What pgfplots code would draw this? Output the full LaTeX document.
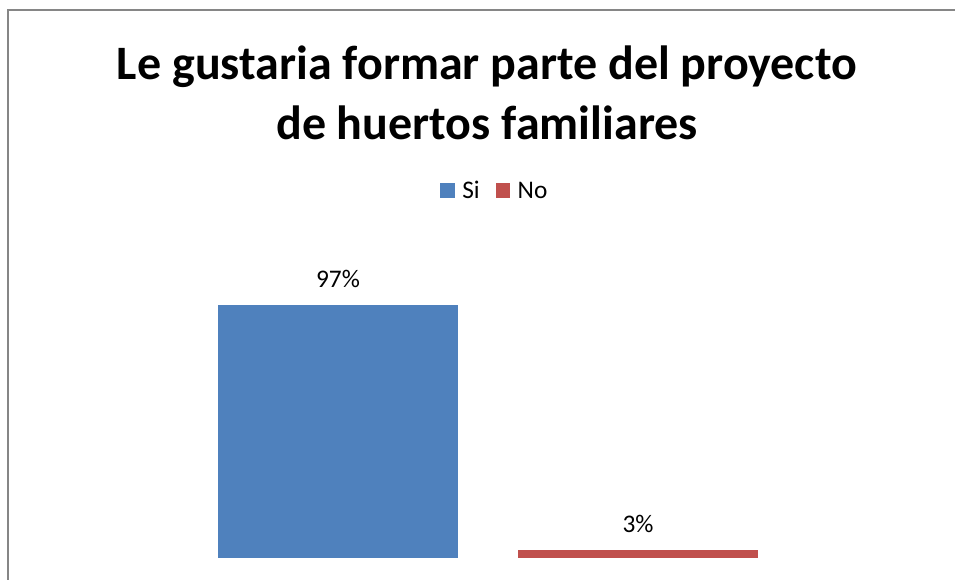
\documentclass[border=0pt]{standalone}
\usepackage{pgfplots}
\pgfplotsset{compat=1.18}
\usepackage{fontspec}
\setmainfont{Carlito}
\definecolor{cblue}{HTML}{4F81BD}
\definecolor{cred}{HTML}{C0504D}
\definecolor{frame}{HTML}{868686}
\begin{document}
\begin{tikzpicture}
\clip (0pt,0pt) rectangle (716.25pt,435pt);
\fill[white] (0pt,0pt) rectangle (716.25pt,435pt);
\draw[frame, line width=1.5pt] (6pt,-10pt) -- (6pt,427.5pt) -- (730pt,427.5pt);
\node[align=center, font=\fontsize{36}{45}\selectfont\bfseries] at (365.25pt,365pt)
  {Le gustaria formar parte del proyecto\\de huertos familiares};
\begin{axis}[
  at={(141pt,16.5pt)}, anchor=south west,
  scale only axis, width=450pt, height=195.6pt,
  xmin=-0.5, xmax=1.5, ymin=0, ymax=100,
  axis lines=none,
  /pgf/number format/assume math mode=true,
  ybar, bar width=180pt,
  nodes near coords={\pgfmathprintnumber{\pgfplotspointmeta}\%},
  every node near coord/.append style={font=\fontsize{19}{22}\selectfont, inner sep=0pt, yshift=13pt, text=black},
  legend columns=2,
  legend style={draw=none, fill=none, at={(0.512,1.407)}, anchor=center,
    font=\fontsize{19}{22}\selectfont,
    /tikz/every odd column/.append style={column sep=3.5pt},
    /tikz/every even column/.append style={column sep=10pt}},
]
\addplot[fill=cblue, draw=none, bar shift=0pt,
  legend image code/.code={\fill[cblue] (0pt,-5.3pt) rectangle (11pt,5.7pt);}] coordinates {(0,97)};
\addplot[fill=cred, draw=none, bar shift=0pt,
  legend image code/.code={\fill[cred] (0pt,-5.3pt) rectangle (11pt,5.7pt);}] coordinates {(1,3)};
\legend{Si,No}
\end{axis}
\end{tikzpicture}
\end{document}
